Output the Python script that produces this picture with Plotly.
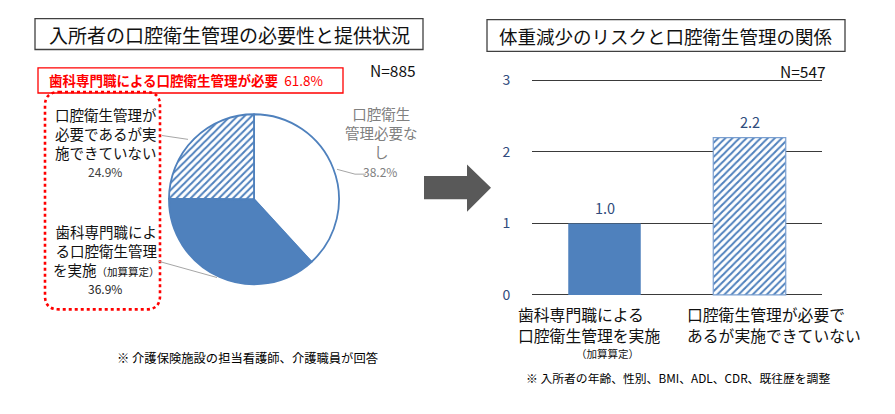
import plotly.graph_objects as go

W, H = 895, 414
FONT = "Noto Sans CJK JP"
BLUE = "#4F81BD"

# ---- data ----
pie_labels = ["口腔衛生管理必要なし", "歯科専門職による口腔衛生管理を実施（加算算定）", "口腔衛生管理が必要であるが実施できていない"]
pie_values = [38.2, 36.9, 24.9]
need_total = 61.8
pie_n = "N=885"

bar_categories = ["歯科専門職による口腔衛生管理を実施", "口腔衛生管理が必要であるが実施できていない"]
bar_values = [1.0, 2.2]
bar_n = "N=547"
y_ticks = [0, 1, 2, 3]

title_left = "入所者の口腔衛生管理の必要性と提供状況"
title_right = "体重減少のリスクと口腔衛生管理の関係"
note_left = "※ 介護保険施設の担当看護師、介護職員が回答"
note_right = "※ 入所者の年齢、性別、BMI、ADL、CDR、既往歴を調整"


def px(x):
    return x / W


def py(y):
    return 1 - y / H


fig = go.Figure()

HATCH = dict(fgcolor=BLUE, bgcolor="white", size=5, solidity=0.4, fillmode="replace")

# pie
cx, cy, r = 254, 199, 88
fig.add_trace(go.Pie(
    labels=pie_labels, values=pie_values, sort=False, direction="clockwise",
    rotation=0, textinfo="none", hoverinfo="label+value",
    marker=dict(colors=["white", BLUE, "white"],
                line=dict(color=BLUE, width=1.8),
                pattern=dict(shape=["", "", "/"], **HATCH)),
    domain=dict(x=[px(cx - r), px(cx + r)], y=[py(cy + r), py(cy - r)]),
    showlegend=False,
))

# bars (one trace per category so the hatched one gets its own pattern)
fig.add_trace(go.Bar(
    x=[bar_categories[0]], y=[bar_values[0]], width=0.5,
    marker=dict(color=BLUE, line=dict(width=0)),
    showlegend=False, xaxis="x", yaxis="y",
))
fig.add_trace(go.Bar(
    x=[bar_categories[1]], y=[bar_values[1]], width=0.5,
    marker=dict(color=BLUE, line=dict(color="#7A9FD0", width=1.2),
                pattern=dict(shape="/", **HATCH)),
    showlegend=False, xaxis="x", yaxis="y",
))

ppu = 74.0
y0px = 298.0
ymin, ymax = -0.02, 3.05
fig.update_layout(
    width=W, height=H, margin=dict(l=0, r=0, t=0, b=0),
    paper_bgcolor="white", plot_bgcolor="white", barmode="overlay",
    font=dict(family=FONT, color="#262626"),
    xaxis=dict(domain=[px(532), px(822)], showticklabels=False, showgrid=False,
               zeroline=False, showline=False, fixedrange=True,
               categoryorder="array", categoryarray=bar_categories),
    yaxis=dict(domain=[py(y0px - ymin * ppu), py(y0px - ymax * ppu)],
               range=[ymin, ymax], tickvals=y_ticks, showgrid=True,
               gridcolor="#3a3a3a", gridwidth=1.3, zeroline=False, showline=False,
               ticks="outside", ticklen=18, tickcolor="rgba(0,0,0,0)",
               tickfont=dict(size=14, color="#2F4B7C", family=FONT)),
)

shapes = []
ann = []

def rect(x0, y0, x1, y1, color, width=1.2, dash="solid"):
    shapes.append(dict(type="rect", xref="paper", yref="paper",
                       x0=px(x0), x1=px(x1), y0=py(y1), y1=py(y0),
                       line=dict(color=color, width=width, dash=dash)))

def text(x, y, s, size, color="#262626", xanchor="center", align="center"):
    ann.append(dict(xref="paper", yref="paper", x=px(x), y=py(y), text=s,
                    showarrow=False, xanchor=xanchor, yanchor="middle", align=align,
                    font=dict(size=size, color=color, family=FONT)))

def line(pts, color="#A6A6A6", width=1):
    d = "M " + " L ".join(f"{px(a)},{py(b)}" for a, b in pts)
    shapes.append(dict(type="path", xref="paper", yref="paper", path=d,
                       line=dict(color=color, width=width)))

# titles
rect(35, 12, 423, 44, "#404040", 1.3)
text(229, 28, title_left, 19, "#111111")
rect(487, 13, 845, 46, "#404040", 1.3)
text(666, 30, title_right, 18.5, "#111111")

# N labels
text(418, 65, pie_n, 15.5, "#111111", xanchor="right")
text(828, 66, bar_n, 15.5, "#111111", xanchor="right")

# red header box
rect(38, 63, 343, 89, "#FF0000", 1.3)
text(47, 76, f"<b>歯科専門職による口腔衛生管理が必要</b>  {need_total:.1f}%", 13.5, "#FF0000",
     xanchor="left", align="left")

# dotted rounded rectangle
x0, y0, x1, y1, rr = 45, 88, 160, 313, 14
d = (f"M {px(x0+rr)},{py(y0)} L {px(x1-rr)},{py(y0)} "
     f"Q {px(x1)},{py(y0)} {px(x1)},{py(y0+rr)} L {px(x1)},{py(y1-rr)} "
     f"Q {px(x1)},{py(y1)} {px(x1-rr)},{py(y1)} L {px(x0+rr)},{py(y1)} "
     f"Q {px(x0)},{py(y1)} {px(x0)},{py(y1-rr)} L {px(x0)},{py(y0+rr)} "
     f"Q {px(x0)},{py(y0)} {px(x0+rr)},{py(y0)} Z")
shapes.append(dict(type="path", xref="paper", yref="paper", path=d,
                   line=dict(color="#FF0000", width=2.6, dash="dot")))

# pie labels
text(106, 131, "口腔衛生管理が<br>必要であるが実<br>施できていない", 14.5, "#111111")
text(105, 170, f"{pie_values[2]:.1f}%", 12, "#404040")
text(106, 252, "歯科専門職によ<br>る口腔衛生管理<br>を実施<span style=\"font-size:10.5px\">（加算算定）</span>", 14.5, "#111111")
text(105, 291, f"{pie_values[1]:.1f}%", 12, "#262626")
text(381, 130, "口腔衛生<br>管理必要な<br>し", 14.5, "#808080")
text(380, 170, f"{pie_values[0]:.1f}%", 12, "#808080")

# leader lines
line([(162, 133), (188, 137)])
line([(158, 263), (217, 280)])
line([(337, 168), (355, 173), (366, 173)])

# arrow
d = (f"M {px(424)},{py(175)} L {px(467)},{py(175)} L {px(467)},{py(163)} "
     f"L {px(491)},{py(187)} L {px(467)},{py(212)} L {px(467)},{py(199)} "
     f"L {px(424)},{py(199)} Z")
shapes.append(dict(type="path", xref="paper", yref="paper", path=d,
                   fillcolor="#595959", line=dict(color="#595959", width=0)))

# bar value labels
for c, v in zip(bar_categories, bar_values):
    ann.append(dict(xref="x", yref="y", x=c, y=v, text=f"{v:.1f}", showarrow=False,
                    yshift=16, yanchor="middle",
                    font=dict(size=14.5, color="#2F4B7C", family=FONT)))

# bar category labels
text(516, 329.5, bar_categories[0][:8] + "<br>" + bar_categories[0][8:], 15.8, "#111111",
     xanchor="left", align="left")
text(607, 359, "（加算算定）", 10.5, "#111111")
text(685, 329.5, bar_categories[1][:10] + "<br>" + bar_categories[1][10:], 15.8, "#111111",
     xanchor="left", align="left")

# footnotes
text(247, 363, note_left, 12.3, "#000000")
text(678, 383, note_right, 11.8, "#000000")

fig.update_layout(shapes=shapes, annotations=ann)
fig.write_html("out.html")
